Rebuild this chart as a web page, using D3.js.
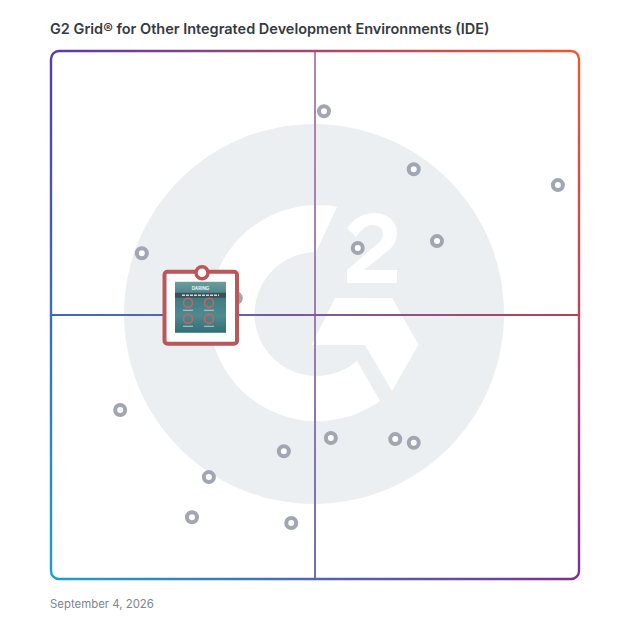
<!DOCTYPE html>
<html>
<head>
<meta charset="utf-8">
<script src="https://cdn.jsdelivr.net/npm/d3@7"></script>
<style>
html, body { margin: 0; padding: 0; background: #fff; }
text { font-family: Inter, "Noto Sans", sans-serif; }
</style>
</head>
<body>
<svg id="chart" width="628" height="628"></svg>
<script>
// satisfaction (x) and market presence (y), both 0-100
var productX = [51.7, 68.7, 96.0, 73.1, 58.1, 17.2, 35.0, 13.1, 44.1, 53.0, 65.2, 68.7, 29.9, 26.7, 45.5];
var productY = [88.6, 77.6, 74.6, 64.0, 62.7, 61.7, 53.2, 32.0, 24.2, 26.7, 26.5, 25.8, 19.3, 11.7, 10.6];
var featuredX = [28.6];
var featuredY = [58.0];
var title = "G2 Grid® for Other Integrated Development Environments (IDE)";
var dateLabel = "September 4, 2026";
var cornerColors = ["#5a3aa8", "#f4552e", "#1b9fd0", "#7d2f96"];
var crossH = ["#3a6cbc", "#7b5a9c", "#b8404f"];
var crossV = ["#b583ae", "#9c7fb3", "#6f6cbb"];

var svg = d3.select("#chart");
var defs = svg.append("defs");

var left = 51, right = 579, top_ = 51, bottom = 579;
var x = d3.scaleLinear().domain([0, 100]).range([left, right]);
var y = d3.scaleLinear().domain([0, 100]).range([bottom, top_]);
var midX = x(50), midY = y(50);

function gradient(id, x1, y1, x2, y2, colors) {
  var g = defs.append("linearGradient").attr("id", id)
    .attr("gradientUnits", "userSpaceOnUse")
    .attr("x1", x1).attr("y1", y1).attr("x2", x2).attr("y2", y2);
  colors.forEach(function(c, i) {
    g.append("stop").attr("offset", i / (colors.length - 1)).attr("stop-color", c);
  });
}

var tl = cornerColors[0], tr = cornerColors[1], bl = cornerColors[2], br = cornerColors[3];
gradient("gTop", left, 0, right, 0, [tl, tr]);
gradient("gRight", 0, top_, 0, bottom, [tr, br]);
gradient("gBottom", left, 0, right, 0, [bl, br]);
gradient("gLeft", 0, top_, 0, bottom, [tl, bl]);
gradient("gH", left, 0, right, 0, crossH);
gradient("gV", 0, top_, 0, bottom, crossV);

// background badge
svg.append("circle").attr("cx", 314).attr("cy", 314).attr("r", 190).attr("fill", "#eceff2");

// G2 logo, white on the badge
var logo = svg.append("g").attr("fill", "#fff");
logo.append("path").attr("d", "M337,207 A108,108 0 1 0 380,401 L357,361 A62,62 0 1 1 316,252 Z");
logo.append("path").attr("d", "M335,298 L392,298 L418.500,344.500 L392,391 L365,345 L311.500,345 Z");
logo.append("path").attr("d", "M347,228 C352,222 361,213 373,213 C387,213 397,221 397,233 C397,243 391,249 384,254 L364,270 L397,270 L397,283 L347,283 L347,270 L376,245 C381,241 383,238 383,233 C383,228 378,225 372,225 C366,225 361,230 356,237 Z");

// cross lines and frame
svg.append("line").attr("x1", midX).attr("x2", midX).attr("y1", top_).attr("y2", bottom)
  .attr("stroke", "url(#gV)").attr("stroke-width", 2);
svg.append("line").attr("x1", left).attr("x2", right).attr("y1", midY).attr("y2", midY)
  .attr("stroke", "url(#gH)").attr("stroke-width", 2);

var rad = 8;
var sides = [
  ["gTop", "M" + left + "," + (top_ + rad) + " A" + rad + "," + rad + " 0 0 1 " + (left + rad) + "," + top_ + " L" + (right - rad) + "," + top_],
  ["gRight", "M" + (right - rad) + "," + top_ + " A" + rad + "," + rad + " 0 0 1 " + right + "," + (top_ + rad) + " L" + right + "," + (bottom - rad) + " A" + rad + "," + rad + " 0 0 1 " + (right - rad) + "," + bottom],
  ["gBottom", "M" + left + "," + (bottom - rad) + " A" + rad + "," + rad + " 0 0 0 " + (left + rad) + "," + bottom + " L" + (right - rad) + "," + bottom],
  ["gLeft", "M" + left + "," + (top_ + rad) + " L" + left + "," + (bottom - rad)]
];
svg.selectAll("path.side").data(sides).enter().append("path").attr("class", "side")
  .attr("d", function(d) { return d[1]; })
  .attr("fill", "none")
  .attr("stroke", function(d) { return "url(#" + d[0] + ")"; })
  .attr("stroke-width", 2.4);

// other products
var idx = d3.range(productX.length);
svg.selectAll("circle.product").data(idx).enter().append("circle").attr("class", "product")
  .attr("cx", function(i) { return x(productX[i]); })
  .attr("cy", function(i) { return y(productY[i]); })
  .attr("r", 5)
  .attr("fill", "#fff")
  .attr("stroke", "#a0a6b3")
  .attr("stroke-width", 4);

// featured product card, hangs from its point
var fx = x(featuredX[0]), fy = y(featuredY[0]);
var card = svg.append("g").attr("transform", "translate(" + fx + "," + fy + ")");
card.append("rect").attr("x", -37.500).attr("y", -1).attr("width", 72.500).attr("height", 72).attr("rx", 3)
  .attr("fill", "#fff").attr("stroke", "#bc5658").attr("stroke-width", 4);
gradient("gThumb", 0, 9, 0, 60, ["#6d9da0", "#3f7d84", "#4f8a8f", "#2f6f76"]);
card.append("rect").attr("x", -27).attr("y", 9).attr("width", 51).attr("height", 51).attr("fill", "url(#gThumb)");
card.append("rect").attr("x", -27).attr("y", 20).attr("width", 51).attr("height", 5).attr("fill", "#3d4f54");
card.append("line").attr("x1", -20).attr("x2", 17).attr("y1", 22.500).attr("y2", 22.500)
  .attr("stroke", "#cfd8d8").attr("stroke-width", 1.500).attr("stroke-dasharray", "3 1");
card.append("text").attr("x", -1.500).attr("y", 17).attr("text-anchor", "middle")
  .attr("font-size", 4.500).attr("font-weight", 700).attr("fill", "#e8f0f0").text("DARING");
var iconX = [-14, 7, -14, 7], iconY = [30, 30, 46, 46];
card.selectAll("circle.icon").data(iconX).enter().append("circle").attr("class", "icon")
  .attr("cx", function(d) { return d; })
  .attr("cy", function(d, i) { return iconY[i]; })
  .attr("r", 4.500).attr("fill", "none").attr("stroke", "#d4605c").attr("stroke-width", 1.400);
card.selectAll("line.caption").data(iconX).enter().append("line").attr("class", "caption")
  .attr("x1", function(d) { return d - 5; })
  .attr("x2", function(d) { return d + 5; })
  .attr("y1", function(d, i) { return iconY[i] + 7.500; })
  .attr("y2", function(d, i) { return iconY[i] + 7.500; })
  .attr("stroke", "#b9cccc").attr("stroke-width", 1);
card.append("circle").attr("r", 6).attr("fill", "#fff").attr("stroke", "#bc5658").attr("stroke-width", 3.500);

// title and date
svg.append("text").attr("x", 50).attr("y", 34).attr("font-size", 14.500).attr("font-weight", 600)
  .attr("fill", "#333b45").text(title);
svg.append("text").attr("x", 50).attr("y", 608).attr("font-size", 11.400)
  .attr("fill", "#7d8590").text(dateLabel);
</script>
</body>
</html>
